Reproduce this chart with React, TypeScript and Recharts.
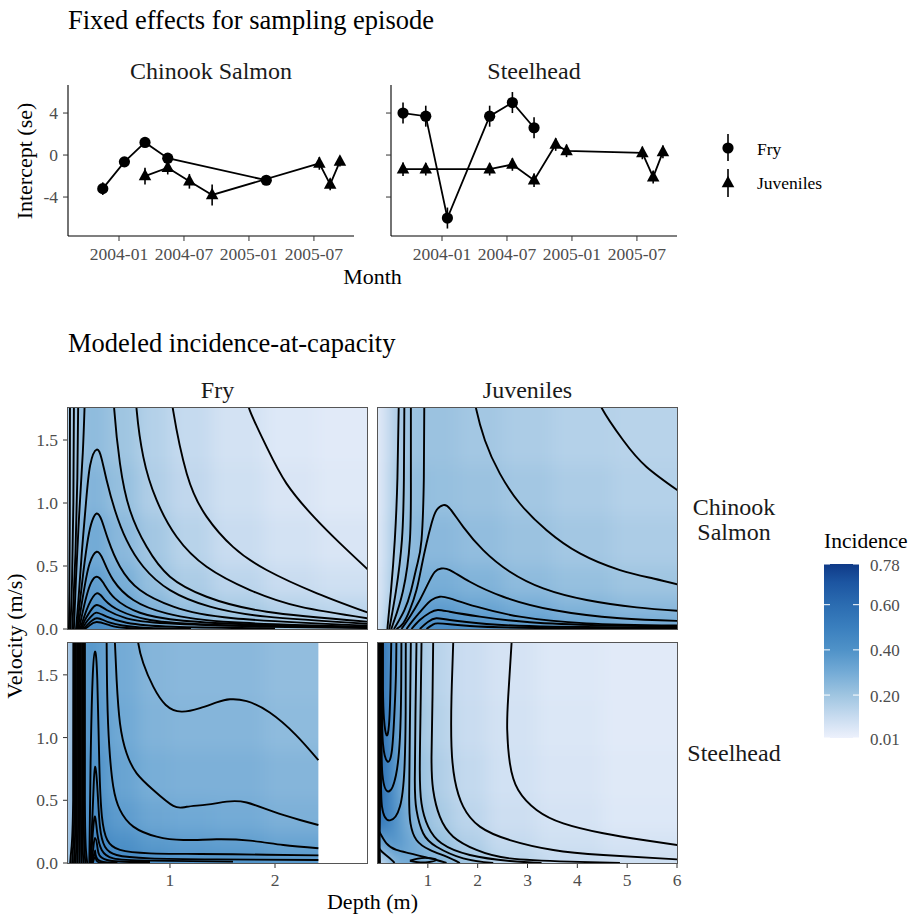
import { ComposedChart, Line, XAxis, YAxis, ErrorBar, ReferenceArea } from 'recharts'

const FONT = '"Liberation Serif", "Times New Roman", serif'

// ---------- top: fixed effects, x = months counted from 2004-01 ----------
const monthTicks = [0, 6, 12, 18]
const monthLabels = ['2004-01', '2004-07', '2005-01', '2005-07']
const interceptTicks = [-4, 0, 4]

const chinookFryMonth = [-1.5, 0.5, 2.4, 4.5, 13.6]
const chinookFryEst = [-3.2, -0.65, 1.2, -0.3, -2.4]
const chinookFrySe = [0.6, 0.4, 0.4, 0.4, 0.4]

const chinookJuvMonth = [2.4, 4.5, 6.5, 8.6, 18.5, 19.5, 20.4]
const chinookJuvEst = [-2.0, -1.2, -2.5, -3.8, -0.8, -2.8, -0.6]
const chinookJuvSe = [0.8, 0.65, 0.7, 1.0, 0.6, 0.55, 0.5]

const steelFryMonth = [-3.6, -1.5, 0.5, 4.4, 6.5, 8.5]
const steelFryEst = [4.0, 3.7, -6.0, 3.7, 5.0, 2.6]
const steelFrySe = [1.0, 1.0, 1.0, 1.0, 1.0, 1.0]

const steelJuvMonth = [-3.6, -1.5, 4.4, 6.5, 8.5, 10.5, 11.5, 18.5, 19.5, 20.4]
const steelJuvEst = [-1.35, -1.35, -1.35, -0.9, -2.4, 1.0, 0.4, 0.2, -2.1, 0.3]
const steelJuvSe = [0.65, 0.6, 0.6, 0.6, 0.65, 0.6, 0.6, 0.6, 0.6, 0.6]

// ---------- bottom: incidence surfaces ----------
const velTicks = [0, 0.5, 1.0, 1.5]
const fryDepthTicks = [1, 2]
const juvDepthTicks = [1, 2, 3, 4, 5, 6]
const legendTicks = [0.01, 0.2, 0.4, 0.6, 0.78]

const velEdges = [0, 0.08, 0.25, 0.5, 0.9, 1.3, 1.76]

// Chinook salmon, fry
const chFryEdges = [0.03, 0.1, 0.2, 0.4, 0.7, 1.0, 1.4, 1.9, 2.4, 2.88]
const chFryZ = [
  [0.22, 0.40, 0.45, 0.40, 0.33, 0.28, 0.24, 0.20, 0.17],
  [0.20, 0.36, 0.42, 0.35, 0.27, 0.22, 0.18, 0.15, 0.13],
  [0.18, 0.32, 0.36, 0.29, 0.22, 0.17, 0.13, 0.10, 0.085],
  [0.17, 0.28, 0.31, 0.25, 0.19, 0.14, 0.10, 0.075, 0.06],
  [0.16, 0.25, 0.27, 0.22, 0.16, 0.12, 0.085, 0.06, 0.045],
  [0.15, 0.23, 0.24, 0.20, 0.15, 0.11, 0.075, 0.05, 0.04],
]
const chFryLines = [
  [[1.74, 1.85], [1.76, 1.735], [1.92, 1.445], [2.11, 1.154], [2.37, 0.89], [2.62, 0.68], [2.9, 0.46]],
  [[1.02, 1.85], [1.03, 1.735], [1.16, 1.233], [1.35, 0.89], [1.6, 0.652], [1.92, 0.468], [2.4, 0.283], [2.9, 0.125]],
  [[0.68, 1.85], [0.683, 1.735], [0.746, 1.366], [0.873, 1.022], [1.063, 0.732], [1.349, 0.494], [1.762, 0.309], [2.238, 0.177], [2.9, 0.083]],
  [[0.47, 1.85], [0.47, 1.735], [0.524, 1.313], [0.619, 0.943], [0.778, 0.652], [1.0, 0.415], [1.349, 0.256], [1.921, 0.137], [2.9, 0.057]],
  [[0.105, 0], [0.13, 0.25], [0.16, 0.6], [0.2, 1.0], [0.24, 1.3], [0.302, 1.424], [0.349, 1.352], [0.397, 1.181], [0.476, 0.943], [0.587, 0.705], [0.746, 0.494], [1.0, 0.309], [1.381, 0.177], [1.921, 0.098], [2.9, 0.04]],
  [[0.115, 0], [0.14, 0.2], [0.175, 0.45], [0.22, 0.72], [0.26, 0.86], [0.302, 0.917], [0.349, 0.864], [0.413, 0.705], [0.524, 0.494], [0.714, 0.309], [1.032, 0.177], [1.603, 0.085], [2.9, 0.026]],
  [[0.125, 0], [0.15, 0.15], [0.19, 0.35], [0.235, 0.52], [0.302, 0.613], [0.365, 0.547], [0.46, 0.388], [0.651, 0.23], [0.968, 0.124], [1.603, 0.053], [2.9, 0.018]],
  [[0.135, 0], [0.165, 0.12], [0.205, 0.26], [0.25, 0.37], [0.302, 0.415], [0.365, 0.367], [0.476, 0.243], [0.714, 0.129], [1.127, 0.066], [1.921, 0.032], [2.9, 0.013]],
  [[0.145, 0], [0.18, 0.09], [0.225, 0.19], [0.302, 0.283], [0.381, 0.23], [0.524, 0.145], [0.81, 0.071], [1.444, 0.032], [2.9, 0.012]],
  [[0.155, 0], [0.19, 0.07], [0.24, 0.14], [0.302, 0.19], [0.397, 0.151], [0.587, 0.085], [0.968, 0.045], [1.921, 0.018], [2.9, 0.008]],
  [[0.165, 0], [0.2, 0.05], [0.25, 0.1], [0.302, 0.13], [0.397, 0.098], [0.587, 0.05], [1.032, 0.018], [2.0, 0.005]],
  [[0.175, 0], [0.215, 0.035], [0.302, 0.085], [0.429, 0.05], [0.714, 0.013], [1.2, 0.002]],
  [[0.185, 0], [0.23, 0.025], [0.302, 0.056], [0.429, 0.029], [0.587, 0.008], [0.9, 0]],
  [[0.048, 1.85], [0.046, 0.9], [0.042, 0.3], [0.038, 0]],
  [[0.086, 1.85], [0.08, 1.0], [0.068, 0.4], [0.056, 0.1], [0.052, 0]],
  [[0.127, 1.85], [0.118, 1.2], [0.1, 0.6], [0.08, 0.2], [0.07, 0]],
  [[0.19, 1.85], [0.17, 1.4], [0.135, 0.9], [0.105, 0.4], [0.09, 0.1], [0.085, 0]],
]

// Chinook salmon, juveniles
const chJuvEdges = [0, 0.15, 0.35, 0.6, 1.0, 1.6, 2.5, 3.5, 4.7, 6]
const chJuvZ = [
  [0.05, 0.22, 0.34, 0.42, 0.44, 0.42, 0.38, 0.35, 0.32],
  [0.04, 0.18, 0.28, 0.35, 0.36, 0.33, 0.30, 0.27, 0.25],
  [0.04, 0.15, 0.24, 0.29, 0.29, 0.27, 0.24, 0.22, 0.20],
  [0.035, 0.14, 0.22, 0.25, 0.25, 0.23, 0.21, 0.19, 0.17],
  [0.03, 0.13, 0.20, 0.23, 0.22, 0.21, 0.19, 0.17, 0.15],
  [0.03, 0.12, 0.19, 0.21, 0.21, 0.19, 0.17, 0.15, 0.14],
]
const chJuvLines = [
  [[4.45, 1.85], [4.487, 1.756], [4.92, 1.498], [5.39, 1.286], [6.05, 1.09]],
  [[1.93, 1.85], [1.964, 1.756], [2.145, 1.498], [2.446, 1.233], [2.847, 0.996], [3.383, 0.784], [4.052, 0.6], [4.855, 0.468], [5.525, 0.401], [6.05, 0.35]],
  [[0.37, 0], [0.505, 0.045], [0.639, 0.151], [0.772, 0.309], [0.873, 0.494], [0.973, 0.679], [1.074, 0.837], [1.174, 0.943], [1.31, 0.983], [1.442, 0.956], [1.71, 0.811], [2.111, 0.626], [2.647, 0.454], [3.316, 0.322], [4.186, 0.23], [5.19, 0.172], [6.05, 0.143]],
  [[0.471, 0], [0.639, 0.098], [0.839, 0.23], [1.007, 0.362], [1.141, 0.454], [1.27, 0.48], [1.442, 0.468], [1.843, 0.375], [2.513, 0.256], [3.517, 0.151], [4.855, 0.085], [6.05, 0.064]],
  [[0.572, 0], [0.706, 0.071], [0.906, 0.164], [1.074, 0.23], [1.24, 0.256], [1.442, 0.243], [1.977, 0.177], [2.847, 0.098], [4.186, 0.045], [6.05, 0.028]],
  [[0.672, 0], [0.839, 0.071], [1.04, 0.129], [1.2, 0.151], [1.442, 0.137], [2.044, 0.098], [3.048, 0.053], [4.521, 0.029], [6.05, 0.018]],
  [[0.839, 0], [1.007, 0.058], [1.17, 0.085], [1.442, 0.071], [2.178, 0.04], [3.517, 0.018], [6.05, 0.011]],
  [[0.973, 0], [1.1, 0.035], [1.2, 0.045], [1.442, 0.038], [1.843, 0.024], [3.182, 0.008], [6.05, 0.003]],
  [[0.42, 1.85], [0.39, 1.2], [0.337, 0.705], [0.26, 0.3], [0.2, 0.05], [0.19, 0]],
  [[0.53, 1.85], [0.52, 1.2], [0.48, 0.705], [0.36, 0.3], [0.25, 0.05], [0.23, 0]],
  [[0.66, 1.85], [0.66, 1.2], [0.64, 0.705], [0.5, 0.3], [0.31, 0.05], [0.27, 0]],
  [[0.93, 1.85], [0.92, 1.2], [0.873, 0.705], [0.78, 0.5], [0.66, 0.3], [0.53, 0.15], [0.38, 0.04], [0.32, 0]],
]

// Steelhead, fry (surface stops at 2.41 m)
const shFryEnd = 2.413
const shFryEdges = [0.03, 0.1, 0.2, 0.4, 0.7, 1.0, 1.4, 1.9, 2.88]
const shFryZ = [
  [0.14, 0.48, 0.50, 0.45, 0.42, 0.40, 0.40, 0.38],
  [0.14, 0.46, 0.47, 0.41, 0.37, 0.36, 0.35, 0.33],
  [0.13, 0.44, 0.43, 0.36, 0.32, 0.31, 0.30, 0.28],
  [0.13, 0.42, 0.40, 0.33, 0.29, 0.28, 0.28, 0.26],
  [0.12, 0.41, 0.38, 0.31, 0.27, 0.26, 0.26, 0.24],
  [0.12, 0.40, 0.37, 0.30, 0.26, 0.25, 0.25, 0.23],
]
const shFryLines = [
  [[0.08, 1.85], [0.078, 0.5], [0.06, 0.1], [0.05, 0]],
  [[0.092, 1.85], [0.09, 0.5], [0.075, 0.1], [0.068, 0]],
  [[0.104, 1.85], [0.102, 0.5], [0.09, 0.1], [0.086, 0]],
  [[0.116, 1.85], [0.114, 0.5], [0.106, 0.1], [0.104, 0]],
  [[0.128, 1.85], [0.126, 0.5], [0.122, 0.1], [0.122, 0]],
  [[0.14, 1.85], [0.139, 0.5], [0.138, 0.1], [0.14, 0]],
  [[0.152, 1.85], [0.152, 0.5], [0.154, 0.1], [0.158, 0]],
  [[0.165, 1.85], [0.165, 0.5], [0.17, 0.1], [0.176, 0]],
  [[0.178, 1.85], [0.178, 0.5], [0.186, 0.1], [0.194, 0]],
  [[0.19, 1.85], [0.19, 0.5], [0.2, 0.1], [0.212, 0]],
  [[0.232, 0], [0.244, 0.795], [0.263, 1.459], [0.286, 1.685], [0.308, 1.459], [0.327, 0.795], [0.352, 0.37], [0.403, 0.183], [0.524, 0.104], [0.81, 0.077], [1.286, 0.072], [1.921, 0.066], [2.413, 0.061]],
  [[0.238, 0], [0.257, 0.29], [0.273, 0.609], [0.286, 0.768], [0.308, 0.609], [0.333, 0.29], [0.381, 0.13], [0.492, 0.064], [0.81, 0.037], [1.444, 0.029], [2.413, 0.024]],
  [[0.245, 0], [0.265, 0.236], [0.286, 0.37], [0.308, 0.236], [0.35, 0.104], [0.46, 0.037], [0.81, 0.019], [1.6, 0.011]],
  [[0.252, 0], [0.27, 0.12], [0.286, 0.2], [0.31, 0.12], [0.4, 0.024], [0.81, 0.008]],
  [[0.258, 0], [0.286, 0.1], [0.318, 0.024], [0.5, 0.005]],
  [[0.265, 0], [0.286, 0.05], [0.31, 0.011], [0.4, 0]],
  [[0.397, 1.85], [0.397, 1.752], [0.403, 1.326], [0.422, 0.928], [0.46, 0.609], [0.524, 0.423], [0.651, 0.29], [0.873, 0.21], [1.127, 0.183], [1.444, 0.189], [1.762, 0.178], [2.079, 0.143], [2.413, 0.117]],
  [[0.476, 1.85], [0.476, 1.752], [0.492, 1.46], [0.524, 1.114], [0.587, 0.875], [0.683, 0.715], [0.841, 0.582], [1.032, 0.455], [1.159, 0.448], [1.349, 0.465], [1.54, 0.489], [1.73, 0.482], [1.984, 0.409], [2.238, 0.343], [2.413, 0.303]],
  [[0.69, 1.85], [0.698, 1.752], [0.746, 1.592], [0.841, 1.406], [0.96, 1.26], [1.11, 1.207], [1.286, 1.235], [1.444, 1.28], [1.571, 1.305], [1.73, 1.29], [1.95, 1.2], [2.2, 1.02], [2.413, 0.82]],
]

// Steelhead, juveniles
const shJuvEdges = [0, 0.15, 0.35, 0.6, 1.0, 1.5, 2.2, 3.2, 4.5, 6]
const shJuvZ = [
  [0.05, 0.22, 0.30, 0.30, 0.27, 0.20, 0.14, 0.11, 0.09],
  [0.30, 0.42, 0.36, 0.29, 0.22, 0.16, 0.11, 0.085, 0.07],
  [0.56, 0.48, 0.34, 0.25, 0.18, 0.13, 0.09, 0.07, 0.05],
  [0.60, 0.48, 0.31, 0.22, 0.16, 0.115, 0.08, 0.06, 0.045],
  [0.60, 0.47, 0.29, 0.20, 0.145, 0.10, 0.075, 0.055, 0.04],
  [0.58, 0.45, 0.28, 0.19, 0.135, 0.095, 0.07, 0.05, 0.04],
]
const shJuvLines = [
  [[2.69, 1.85], [2.68, 1.752], [2.613, 1.326], [2.593, 1.061], [2.647, 0.795], [2.814, 0.582], [3.182, 0.423], [3.717, 0.316], [4.52, 0.237], [5.324, 0.183], [6.05, 0.14]],
  [[1.51, 1.85], [1.509, 1.752], [1.475, 1.326], [1.475, 0.928], [1.542, 0.662], [1.71, 0.449], [2.044, 0.29], [2.647, 0.183], [3.517, 0.104], [4.52, 0.064], [6.05, 0.028]],
  [[1.107, 1.85], [1.107, 1.752], [1.094, 1.326], [1.074, 0.848], [1.107, 0.582], [1.241, 0.369], [1.509, 0.21], [1.977, 0.104], [2.647, 0.037], [3.851, 0.011], [4.855, 0]],
  [[0.873, 1.85], [0.873, 1.752], [0.853, 1.193], [0.839, 0.742], [0.873, 0.476], [1.007, 0.29], [1.274, 0.157], [1.843, 0.064], [2.647, 0.016], [3.282, 0]],
  [[0.772, 1.85], [0.772, 1.752], [0.752, 1.193], [0.739, 0.662], [0.772, 0.423], [0.906, 0.237], [1.174, 0.13], [1.71, 0.037], [2.312, 0]],
  [[0.659, 1.85], [0.659, 1.752], [0.639, 1.061], [0.625, 0.529], [0.652, 0.316], [0.772, 0.183], [1.04, 0.104], [1.375, 0.05], [1.643, 0]],
  [[0.1, 1.85], [0.1, 1.4], [0.12, 1.15], [0.17, 1.02], [0.22, 1.1], [0.25, 1.4], [0.27, 1.85]],
  [[0.08, 1.85], [0.08, 1.3], [0.1, 0.95], [0.19, 0.81], [0.28, 0.9], [0.33, 1.2], [0.36, 1.5], [0.371, 1.85]],
  [[0.07, 1.85], [0.07, 1.1], [0.09, 0.7], [0.21, 0.57], [0.36, 0.7], [0.44, 1.0], [0.465, 1.4], [0.471, 1.85]],
  [[0.06, 1.85], [0.06, 0.9], [0.08, 0.45], [0.24, 0.34], [0.44, 0.45], [0.53, 0.75], [0.555, 1.2], [0.558, 1.85]],
  [[0.0, 0.27], [0.17, 0.157], [0.371, 0.104], [0.639, 0.077], [0.906, 0.05], [1.174, 0.024], [1.375, 0]],
  [[0.0, 0.13], [0.08, 0.09], [0.2, 0.05], [0.3, 0.015], [0.33, 0]],
  [[0.64, 0.018], [0.8, 0.035], [1.0, 0.04], [1.17, 0.025], [1.0, 0.006], [0.8, 0.006], [0.64, 0.018]],
  [[0.02, 1.85], [0.02, 0.8], [0.015, 0.3], [0.01, 0]],
  [[0.035, 1.85], [0.035, 0.9], [0.028, 0.4], [0.02, 0.15], [0.02, 0]],
  [[0.048, 1.85], [0.047, 1.0], [0.04, 0.5], [0.032, 0.2], [0.04, 0]],
]

// ---------- helpers ----------
const blueStops: [number, number[]][] = [
  [0.01, [237, 241, 252]],
  [0.1, [201, 220, 240]],
  [0.2, [159, 197, 225]],
  [0.3, [116, 171, 214]],
  [0.4, [79, 146, 200]],
  [0.5, [58, 127, 190]],
  [0.6, [43, 108, 177]],
  [0.7, [28, 85, 161]],
  [0.78, [15, 58, 135]],
]
function blues(z: number) {
  if (z <= blueStops[0][0]) return `rgb(${blueStops[0][1].join(',')})`
  for (let i = 1; i < blueStops.length; i++) {
    const [z1, c1] = blueStops[i]
    const [z0, c0] = blueStops[i - 1]
    if (z <= z1) {
      const t = (z - z0) / (z1 - z0)
      return `rgb(${c0.map((c, k) => Math.round(c + (c1[k] - c) * t)).join(',')})`
    }
  }
  return `rgb(${blueStops[blueStops.length - 1][1].join(',')})`
}

const zip = (m: number[], e: number[], s: number[]) => m.map((x, i) => ({ month: x, est: e[i], se: s[i] }))
const toPts = (line: number[][]) => line.map(([d, v]) => ({ d, v }))

type Box = { x: number; y: number; w: number; h: number }

const tickStyle = { fill: '#4d4d4d', fontSize: 17.5, fontFamily: FONT }
const monthDomain = [-4.71, 21.7]
const interceptDomain = [-7.71, 6.67]
const velDomain = [0, 1.754]
const fryDomain = [0.029, 2.876]
const juvDomain = [0, 6]

const circleDot = (p: any) => <circle key={`c${p.index}`} cx={p.cx} cy={p.cy} r={5.6} fill="#000" />
const triangleDot = (p: any) => {
  const { cx, cy } = p
  const s = 7.2
  return (
    <path key={`t${p.index}`} d={`M${cx},${cy - s} L${cx + s * 0.87},${cy + s * 0.6} L${cx - s * 0.87},${cy + s * 0.6} Z`} fill="#000" />
  )
}

function EffectsPanel({ box, fry, juv, showLabels }: { box: Box; fry: any[]; juv: any[]; showLabels: boolean }) {
  return (
    <div style={{ position: 'absolute', left: box.x - 60, top: box.y - 10 }}>
      <ComposedChart width={box.w + 70} height={box.h + 50} margin={{ top: 10, right: 10, left: 0, bottom: 0 }}>
        <XAxis
          type="number"
          dataKey="month"
          domain={monthDomain}
          ticks={monthTicks}
          allowDataOverflow
          height={40}
          tickSize={5}
          tickMargin={7}
          tickFormatter={(m) => monthLabels[monthTicks.indexOf(m)]}
          axisLine={{ stroke: '#000', strokeWidth: 1.1 }}
          tickLine={{ stroke: '#333' }}
          tick={tickStyle}
        />
        <YAxis
          type="number"
          domain={interceptDomain}
          ticks={interceptTicks}
          allowDataOverflow
          width={60}
          tickSize={5}
          tickMargin={5}
          tickFormatter={(v) => (showLabels ? String(v) : '')}
          axisLine={{ stroke: '#000', strokeWidth: 1.1 }}
          tickLine={{ stroke: '#333' }}
          tick={tickStyle}
        />
        <Line data={fry} dataKey="est" type="linear" stroke="#000" strokeWidth={1.8} dot={circleDot} isAnimationActive={false}>
          <ErrorBar dataKey="se" width={0} stroke="#000" strokeWidth={1.6} direction="y" />
        </Line>
        <Line data={juv} dataKey="est" type="linear" stroke="#000" strokeWidth={1.8} dot={triangleDot} isAnimationActive={false}>
          <ErrorBar dataKey="se" width={0} stroke="#000" strokeWidth={1.6} direction="y" />
        </Line>
      </ComposedChart>
    </div>
  )
}

const PAD = 30
function HeatLayer({ box, xDomain, xEdges, z }: { box: Box; xDomain: number[]; xEdges: number[]; z: number[][] }) {
  const kx = (xDomain[1] - xDomain[0]) / box.w
  const ky = (velDomain[1] - velDomain[0]) / box.h
  const xd = [xDomain[0] - PAD * kx, xDomain[1] + PAD * kx]
  const yd = [velDomain[0] - PAD * ky, velDomain[1] + PAD * ky]
  const cells: any[] = []
  z.forEach((row, r) =>
    row.forEach((val, c) => {
      cells.push({
        x1: c === 0 ? xd[0] : xEdges[c],
        x2: c === row.length - 1 ? xd[1] : xEdges[c + 1],
        y1: r === 0 ? yd[0] : velEdges[r],
        y2: r === z.length - 1 ? yd[1] : velEdges[r + 1],
        fill: blues(val),
      })
    }),
  )
  return (
    <div style={{ position: 'absolute', left: box.x, top: box.y, width: box.w, height: box.h, overflow: 'hidden' }}>
      <div style={{ position: 'absolute', left: -PAD, top: -PAD, filter: 'blur(8px)' }}>
        <ComposedChart width={box.w + 2 * PAD} height={box.h + 2 * PAD} margin={{ top: 0, right: 0, bottom: 0, left: 0 }} data={[{ d: xd[0], v: yd[0] }]}>
          <XAxis type="number" dataKey="d" domain={xd} hide allowDataOverflow />
          <YAxis type="number" dataKey="v" domain={yd} hide allowDataOverflow />
          {cells.map((c, i) => (
            <ReferenceArea key={i} x1={c.x1} x2={c.x2} y1={c.y1} y2={c.y2} fill={c.fill} fillOpacity={1} stroke={c.fill} strokeWidth={1} ifOverflow="visible" />
          ))}
        </ComposedChart>
      </div>
    </div>
  )
}

function ContourPanel({
  box, xDomain, xTicks, showX, showY, lines, maskFrom,
}: { box: Box; xDomain: number[]; xTicks: number[]; showX: boolean; showY: boolean; lines: number[][][]; maskFrom?: number }) {
  return (
    <>
      <div style={{ position: 'absolute', left: box.x - 60, top: box.y - 10 }}>
        <ComposedChart
          width={box.w + 70}
          height={box.h + 50}
          margin={{ top: 10, right: 10, left: showY ? 0 : 60, bottom: showX ? 0 : 40 }}
        >
          <XAxis
            type="number"
            dataKey="d"
            domain={xDomain}
            ticks={xTicks}
            allowDataOverflow
            hide={!showX}
            height={40}
            tickSize={5}
            tickMargin={6}
            axisLine={false}
            tickLine={{ stroke: '#333' }}
            tick={tickStyle}
          />
          <YAxis
            type="number"
            dataKey="v"
            domain={velDomain}
            ticks={velTicks}
            allowDataOverflow
            hide={!showY}
            width={60}
            tickSize={5}
            tickMargin={5}
            tickFormatter={(v) => Number(v).toFixed(1)}
            axisLine={false}
            tickLine={{ stroke: '#333' }}
            tick={tickStyle}
          />
          {maskFrom !== undefined && (
            <ReferenceArea x1={maskFrom} x2={xDomain[1]} y1={velDomain[0]} y2={velDomain[1]} fill="#fff" fillOpacity={1} stroke="none" ifOverflow="hidden" />
          )}
          {lines.map((ln, i) => (
            <Line
              key={i}
              data={toPts(ln)}
              dataKey="v"
              type="natural"
              stroke="#000"
              strokeWidth={1.9}
              dot={false}
              activeDot={false}
              isAnimationActive={false}
            />
          ))}
        </ComposedChart>
      </div>
      <div
        style={{
          position: 'absolute',
          left: box.x - 1,
          top: box.y - 1,
          width: box.w + 2,
          height: box.h + 2,
          border: '1px solid #555',
          boxSizing: 'border-box',
          pointerEvents: 'none',
        }}
      />
    </>
  )
}

const topLeftBox = { x: 68, y: 85, w: 286, h: 151 }
const topRightBox = { x: 391, y: 85, w: 286, h: 151 }
const tlBox = { x: 68, y: 408, w: 299, h: 221 }
const trBox = { x: 378, y: 408, w: 299, h: 221 }
const blBox = { x: 68, y: 643, w: 299, h: 220 }
const brBox = { x: 378, y: 643, w: 299, h: 220 }

const barTop = 564
const barBottom = 738
const barY = (z: number) => barBottom - ((z - 0.01) / 0.77) * (barBottom - barTop)

export default function App() {
  return (
    <div style={{ position: 'absolute', left: 0, top: 0, width: 912, height: 918, background: '#fff', fontFamily: FONT }}>
      <style>{`svg text, .recharts-text { font-family: "Liberation Serif", "Times New Roman", serif !important; }`}</style>
      <EffectsPanel box={topLeftBox} fry={zip(chinookFryMonth, chinookFryEst, chinookFrySe)} juv={zip(chinookJuvMonth, chinookJuvEst, chinookJuvSe)} showLabels />
      <EffectsPanel box={topRightBox} fry={zip(steelFryMonth, steelFryEst, steelFrySe)} juv={zip(steelJuvMonth, steelJuvEst, steelJuvSe)} showLabels={false} />

      <HeatLayer box={tlBox} xDomain={fryDomain} xEdges={chFryEdges} z={chFryZ} />
      <HeatLayer box={trBox} xDomain={juvDomain} xEdges={chJuvEdges} z={chJuvZ} />
      <HeatLayer box={blBox} xDomain={fryDomain} xEdges={shFryEdges} z={shFryZ} />
      <HeatLayer box={brBox} xDomain={juvDomain} xEdges={shJuvEdges} z={shJuvZ} />

      <ContourPanel box={tlBox} xDomain={fryDomain} xTicks={fryDepthTicks} showX={false} showY lines={chFryLines} />
      <ContourPanel box={trBox} xDomain={juvDomain} xTicks={juvDepthTicks} showX={false} showY={false} lines={chJuvLines} />
      <ContourPanel box={blBox} xDomain={fryDomain} xTicks={fryDepthTicks} showX showY lines={shFryLines} maskFrom={shFryEnd} />
      <ContourPanel box={brBox} xDomain={juvDomain} xTicks={juvDepthTicks} showX showY={false} lines={shJuvLines} />

      <svg width={912} height={918} style={{ position: 'absolute', left: 0, top: 0, pointerEvents: 'none' }} fontFamily={FONT}>
        <defs>
          <linearGradient id="incBar" x1="0" y1="1" x2="0" y2="0">
            {blueStops.map(([z, c]) => (
              <stop key={z} offset={(z - 0.01) / 0.77} stopColor={`rgb(${c.join(',')})`} />
            ))}
          </linearGradient>
        </defs>
        <text x={68} y={29} fontSize={26.5}>Fixed effects for sampling episode</text>
        <text x={211} y={79} fontSize={24} textAnchor="middle" fill="#1a1a1a">Chinook Salmon</text>
        <text x={534} y={79} fontSize={24} textAnchor="middle" fill="#1a1a1a">Steelhead</text>
        <text transform="translate(32,161) rotate(-90)" fontSize={22} textAnchor="middle">Intercept (se)</text>
        <text x={372.5} y={284} fontSize={22} textAnchor="middle">Month</text>

        <line x1={728} y1={134} x2={728} y2={161} stroke="#000" strokeWidth={1.6} />
        <circle cx={728} cy={148} r={5.6} fill="#000" />
        <line x1={728} y1={169} x2={728} y2={197} stroke="#000" strokeWidth={1.6} />
        <path d="M728,175.8 L734.3,187.3 L721.7,187.3 Z" fill="#000" />
        <text x={757} y={155} fontSize={17.5}>Fry</text>
        <text x={757} y={189} fontSize={17.5}>Juveniles</text>

        <text x={68} y={352} fontSize={26.5}>Modeled incidence-at-capacity</text>
        <text x={217.5} y={398} fontSize={24} textAnchor="middle" fill="#1a1a1a">Fry</text>
        <text x={527.5} y={398} fontSize={24} textAnchor="middle" fill="#1a1a1a">Juveniles</text>
        <text x={734} y={515} fontSize={24} textAnchor="middle" fill="#1a1a1a">Chinook</text>
        <text x={734} y={540} fontSize={24} textAnchor="middle" fill="#1a1a1a">Salmon</text>
        <text x={734} y={761} fontSize={24} textAnchor="middle" fill="#1a1a1a">Steelhead</text>
        <text transform="translate(22,636) rotate(-90)" fontSize={22} textAnchor="middle">Velocity (m/s)</text>
        <text x={372.5} y={909} fontSize={22} textAnchor="middle">Depth (m)</text>

        <text x={824} y={548} fontSize={21.5}>Incidence</text>
        <rect x={824} y={barTop} width={35} height={barBottom - barTop} fill="url(#incBar)" />
        {legendTicks.map((t) => (
          <g key={t}>
            <line x1={824} x2={830} y1={barY(t)} y2={barY(t)} stroke="#fff" strokeWidth={1} />
            <line x1={853} x2={859} y1={barY(t)} y2={barY(t)} stroke="#fff" strokeWidth={1} />
            <text x={870} y={barY(t) + 1} fontSize={17} fill="#4d4d4d" dominantBaseline="central">
              {t.toFixed(2)}
            </text>
          </g>
        ))}
      </svg>
    </div>
  )
}
